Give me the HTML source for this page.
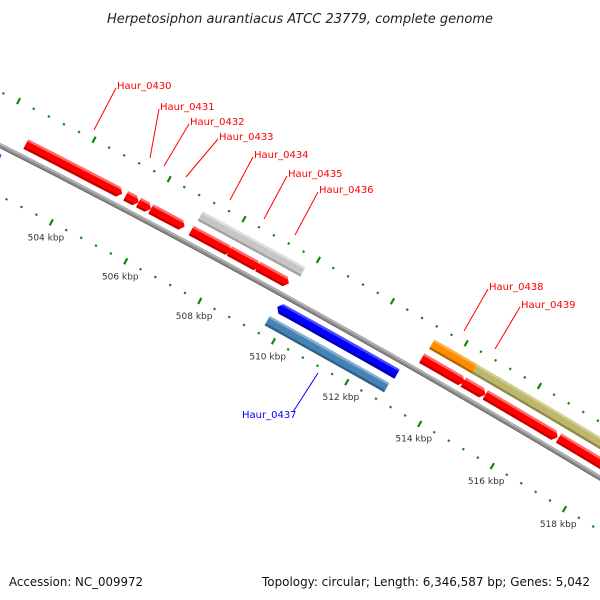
<!DOCTYPE html>
<html><head><meta charset="utf-8"><style>
body{margin:0;background:#fff}
svg{display:block;font-family:"DejaVu Sans","Liberation Sans",sans-serif}
</style></head><body>
<svg id="map" width="600" height="600" viewBox="0 0 600 600" xmlns="http://www.w3.org/2000/svg">
<rect width="600" height="600" fill="#fff"/>
<text x="300" y="23" text-anchor="middle" font-size="13" font-style="italic" fill="#222">Herpetosiphon aurantiacus ATCC 23779, complete genome</text>
<defs id="grads"></defs>
<g id="ticks"></g>
<g id="backbone"></g>
<g id="features"></g>
<g id="labels" font-size="10">
 <g fill="#f00" stroke="none">
  <text x="117" y="89">Haur_0430</text>
  <text x="160" y="110">Haur_0431</text>
  <text x="190" y="125">Haur_0432</text>
  <text x="219" y="140">Haur_0433</text>
  <text x="254" y="158">Haur_0434</text>
  <text x="288" y="177">Haur_0435</text>
  <text x="319" y="193">Haur_0436</text>
  <text x="489" y="290">Haur_0438</text>
  <text x="521" y="308">Haur_0439</text>
 </g>
 <text x="242" y="418" fill="#00f">Haur_0437</text>
 <g stroke="#f00" stroke-width="1">
  <line x1="116" y1="88" x2="94" y2="130"/>
  <line x1="159" y1="109" x2="150" y2="158"/>
  <line x1="189" y1="124" x2="164" y2="166"/>
  <line x1="218" y1="139" x2="186" y2="177"/>
  <line x1="253" y1="157" x2="230" y2="200"/>
  <line x1="287" y1="176" x2="264" y2="219"/>
  <line x1="318" y1="192" x2="295" y2="235"/>
  <line x1="488" y1="289" x2="464" y2="331"/>
  <line x1="520" y1="307" x2="495" y2="349"/>
 </g>
 <line x1="293" y1="412" x2="318" y2="373" stroke="#00f" stroke-width="1"/>
</g>
<text x="9" y="586" font-size="12" fill="#111" textLength="134" lengthAdjust="spacingAndGlyphs">Accession: NC_009972</text>
<text x="262" y="586" font-size="12" fill="#111" textLength="328" lengthAdjust="spacingAndGlyphs">Topology: circular; Length: 6,346,587 bp; Genes: 5,042</text>
</svg>
<script>
// ---- data ----
const featureNames  = ['prev-rev','Haur_0430','Haur_0431','Haur_0432','Haur_0433','gray-1','gray-2','gray-3','Haur_0434','Haur_0435','Haur_0436','Haur_0437','Haur_0437-gene','orange-1','khaki-1','khaki-2','khaki-3','Haur_0438','Haur_0439','red-next-1','red-next-2'];
const featureStarts = [500500,502611,505274,505616,505945,507054,508135,508921,507027,508053,508816,509684,509632,513306,514466,515068,517069,513264,514397,515000,517014];
const featureEnds   = [502220,505178,505616,505945,506849,508135,508921,509816,508105,508868,509658,512944,512890,514548,515151,517096,519500,514425,515000,516986,519500];
const featureStrand = [-1,1,1,1,1,0,0,0,1,1,1,-1,0,0,0,0,0,1,1,1,1];
const featureRow    = [-1,1,1,1,1,2,2,2,1,1,1,-1,-2,2,2,2,2,1,1,1,1];
const featureType   = ['blue','red','red','red','red','gray','gray','gray','red','red','red','blue','steel','orange','khaki','khaki','khaki','red','red','red','red'];
const tickMin = 496000, tickMax = 522000, minorStep = 400, majorStep = 2000;
const tickLabelUnit = ' kbp';

// ---- geometry ----
const NS='http://www.w3.org/2000/svg';
const P=[[0,145.5],[260,282.5],[600,478]];
function circ(a,b,c){const d=2*(a[0]*(b[1]-c[1])+b[0]*(c[1]-a[1])+c[0]*(a[1]-b[1]));
 const s=p=>p[0]*p[0]+p[1]*p[1];
 const ux=(s(a)*(b[1]-c[1])+s(b)*(c[1]-a[1])+s(c)*(a[1]-b[1]))/d;
 const uy=(s(a)*(c[0]-b[0])+s(b)*(a[0]-c[0])+s(c)*(b[0]-a[0]))/d;
 return [ux,uy,Math.hypot(a[0]-ux,a[1]-uy)];}
const [cx,cy,R]=circ(P[0],P[1],P[2]);
const refX=72, refY=cy-Math.sqrt(R*R-(refX-cx)*(refX-cx));
const phiRef=Math.atan2(refY-cy,refX-cx);
const pxPerBp=0.0422;
function ang(bp){return phiRef+(bp-504000)*pxPerBp/R;}
function pt(bp,d){const a=ang(bp);return [cx+(R+d)*Math.cos(a),cy+(R+d)*Math.sin(a)];}
const rowOffset={'1':13,'2':30,'-1':-13,'-2':-30};
const colors={red:['#ff6a6a','#ff0000','#c40000'],gray:['#dedede','#c6c6c6','#a2a2a2'],blue:['#4a4aff','#0000ff','#0000a8'],
 steel:['#86aed0','#4682b4','#2f5f88'],orange:['#ffac40','#ff8c00','#b86400'],khaki:['#d3ce90','#bdb76b','#8e8948']};
function el(tag,attrs,parent){const e=document.createElementNS(NS,tag);for(const k in attrs)e.setAttribute(k,attrs[k]);parent.appendChild(e);return e;}

// backbone
const bb=document.getElementById('backbone');
function arcPath(s,e,d){let p='';const n=60;for(let i=0;i<=n;i++){const q=pt(s+(e-s)*i/n,d);p+=(i?'L':'M')+q[0].toFixed(2)+','+q[1].toFixed(2);}return p;}
let b1=el('path',{d:arcPath(494000,524000,0),fill:'none',stroke:'#8c8c8c','stroke-width':5},bb);


let b2=el('path',{d:arcPath(494000,524000,1.3),fill:'none',stroke:'#b4b4b4','stroke-width':1.6},bb);


let b3=el('path',{d:arcPath(494000,524000,-2),fill:'none',stroke:'#6a6a6a','stroke-width':1},bb);



// ticks
const tg=document.getElementById('ticks');
const ringOffsets=[48,-45];
for(let bp=tickMin;bp<=tickMax;bp+=minorStep){
 const major=bp%majorStep===0;
 ringOffsets.forEach(r=>{
  const len=major?3.4:1.1;
  const a=pt(bp,r+len),b=pt(bp,r-len);
  const t=el('line',{x1:a[0],y1:a[1],x2:b[0],y2:b[1],stroke:'#0a8a0a','stroke-width':2.2},tg);
  
  
 });
 if(major){
  const c=pt(bp,-61);
  const tx=el('text',{x:c[0]+2,y:c[1]+4,'text-anchor':'middle','font-size':9,fill:'#333'},tg);
  tx.textContent=(bp/1000)+tickLabelUnit;
  
  
 }
}

// features
const fg=document.getElementById('features'), defs=document.getElementById('grads');
const h=5.4, headBp=100;
featureStarts.forEach((s,i)=>{
 const e=featureEnds[i], d=rowOffset[featureRow[i]], str=featureStrand[i];
 const c=colors[featureType[i]];
 const n=Math.max(2,Math.ceil((e-s)/300));
 let top=[],bot=[];
 let s2=s,e2=e;
 if(str===1)e2=e-headBp; if(str===-1)s2=s+headBp;
 for(let k=0;k<=n;k++){const b=s2+(e2-s2)*k/n;top.push(pt(b,d+h));bot.push(pt(b,d-h));}
 let pts=[...top];
 if(str===1)pts.push(pt(e,d));
 pts=pts.concat(bot.reverse());
 if(str===-1)pts.push(pt(s,d));
 const mid=(s+e)/2, g1=pt(mid,d+h), g2=pt(mid,d-h);
 const gid='g'+i;
 const lg=el('linearGradient',{id:gid,gradientUnits:'userSpaceOnUse',x1:g1[0],y1:g1[1],x2:g2[0],y2:g2[1]},defs);
 [[0,c[0]],[0.22,c[0]],[0.24,c[1]],[0.78,c[1]],[0.8,c[2]],[1,c[2]]].forEach(st=>el('stop',{offset:st[0],'stop-color':st[1]},lg));
 const poly=el('polygon',{points:pts.map(p=>p[0].toFixed(2)+','+p[1].toFixed(2)).join(' '),fill:'url(#'+gid+')'},fg);
 
 
});
</script>
</body></html>
